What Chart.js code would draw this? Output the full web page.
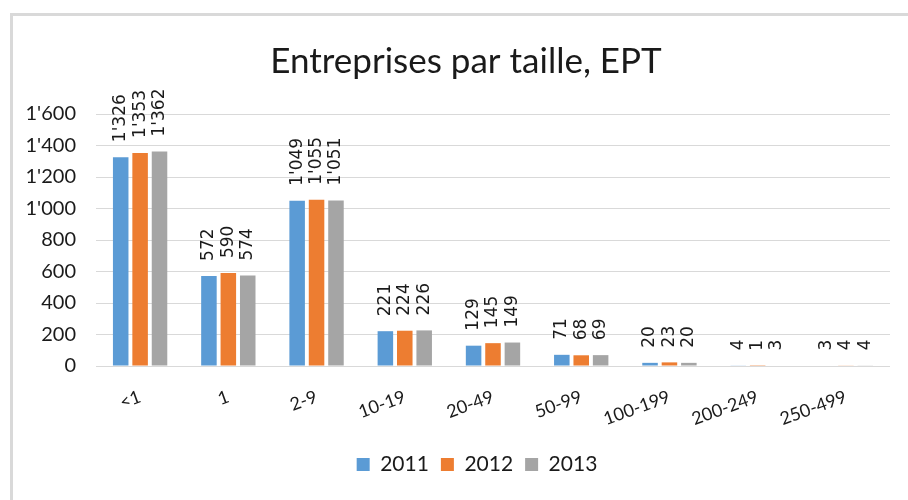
<!DOCTYPE html>
<html>
<head>
<meta charset="utf-8">
<script src="https://cdn.jsdelivr.net/npm/chart.js@4.4.1/dist/chart.umd.min.js"></script>
<style>
  html, body { margin: 0; padding: 0; background: #ffffff; overflow: hidden; }
  #wrap { position: relative; width: 908px; height: 500px; }
  #frame { position: absolute; left: 10px; top: 13px; width: 1200px; height: 800px;
           border-top: 3px solid #d9d9d9; border-left: 3px solid #d9d9d9; }
  canvas { position: absolute; left: 0; top: 0; }
</style>
</head>
<body>
<div id="wrap">
  <div id="frame"></div>
  <canvas id="c" width="908" height="500"></canvas>
</div>
<script>
const categories = ['<1', '1', '2-9', '10-19', '20-49', '50-99', '100-199', '200-249', '250-499'];
const seriesNames = ['2011', '2012', '2013'];
const values2011 = [1326, 572, 1049, 221, 129, 71, 20, 4, 3];
const values2012 = [1353, 590, 1055, 224, 145, 68, 23, 1, 4];
const values2013 = [1362, 574, 1051, 226, 149, 69, 20, 3, 4];
const yTicks = [0, 200, 400, 600, 800, 1000, 1200, 1400, 1600];
const titleText = 'Entreprises par taille, EPT';

const colors = ['#5B9BD5', '#ED7D31', '#A5A5A5'];
const textColor = '#1a1a1a';

function fmt(v) {
  const s = String(Math.round(v));
  return s.replace(/\B(?=(\d{3})+(?!\d))/g, "'");
}

const labelPlugin = {
  id: 'barLabels',
  afterDatasetsDraw(chart) {
    const ctx = chart.ctx;
    ctx.save();
    ctx.fillStyle = textColor;
    ctx.font = '17px "DejaVu Sans"';
    ctx.textAlign = 'left';
    ctx.textBaseline = 'middle';
    chart.data.datasets.forEach((ds, di) => {
      const meta = chart.getDatasetMeta(di);
      meta.data.forEach((bar, i) => {
        ctx.save();
        ctx.translate(bar.x, bar.y - 15);
        ctx.rotate(-Math.PI / 2);
        ctx.fillText(fmt(ds.data[i]), 0, 0);
        ctx.restore();
      });
    });
    ctx.restore();
  }
};

const shiftPlugin = {
  id: 'shiftBoxes',
  afterLayout(chart) {
    if (chart.titleBlock) { chart.titleBlock.left += 21; chart.titleBlock.right += 21; }
    if (chart.legend) { chart.legend.left += 32; chart.legend.right += 32; }
  }
};

new Chart(document.getElementById('c'), {
  type: 'bar',
  data: {
    labels: categories,
    datasets: [
      { label: seriesNames[0], data: values2011, backgroundColor: colors[0] },
      { label: seriesNames[1], data: values2012, backgroundColor: colors[1] },
      { label: seriesNames[2], data: values2013, backgroundColor: colors[2] }
    ]
  },
  options: {
    responsive: false,
    animation: false,
    layout: { padding: { left: 0, right: 18, top: 10, bottom: 15 } },
    datasets: { bar: { categoryPercentage: 0.66, barPercentage: 0.8 } },
    plugins: {
      title: {
        display: true,
        text: titleText,
        color: textColor,
        font: { family: 'Lato', size: 35, weight: 'normal', lineHeight: 1.0 },
        padding: { top: 34, bottom: 35 }
      },
      legend: {
        display: true,
        position: 'bottom',
        labels: {
          color: textColor,
          font: { family: 'Lato', size: 21 },
          boxWidth: 13,
          boxHeight: 13,
          padding: 12
        }
      },
      tooltip: { enabled: false }
    },
    scales: {
      x: {
        grid: { display: false, drawTicks: false },
        border: { display: false },
        ticks: {
          color: textColor,
          font: { family: 'Lato', size: 18 },
          minRotation: 20,
          maxRotation: 20,
          padding: 20,
          autoSkip: false
        },
        afterFit(scale) { scale.height = 76; }
      },
      y: {
        min: 0,
        max: 1600,
        grid: { color: '#d9d9d9', lineWidth: 1, drawTicks: false },
        border: { display: false },
        afterBuildTicks(scale) { scale.ticks = yTicks.map(v => ({ value: v })); },
        ticks: {
          color: textColor,
          font: { family: 'Lato', size: 20 },
          padding: 20,
          callback: (v) => fmt(v)
        },
        afterFit(scale) { scale.width = 96; }
      }
    }
  },
  plugins: [labelPlugin, shiftPlugin]
});
</script>
</body>
</html>
